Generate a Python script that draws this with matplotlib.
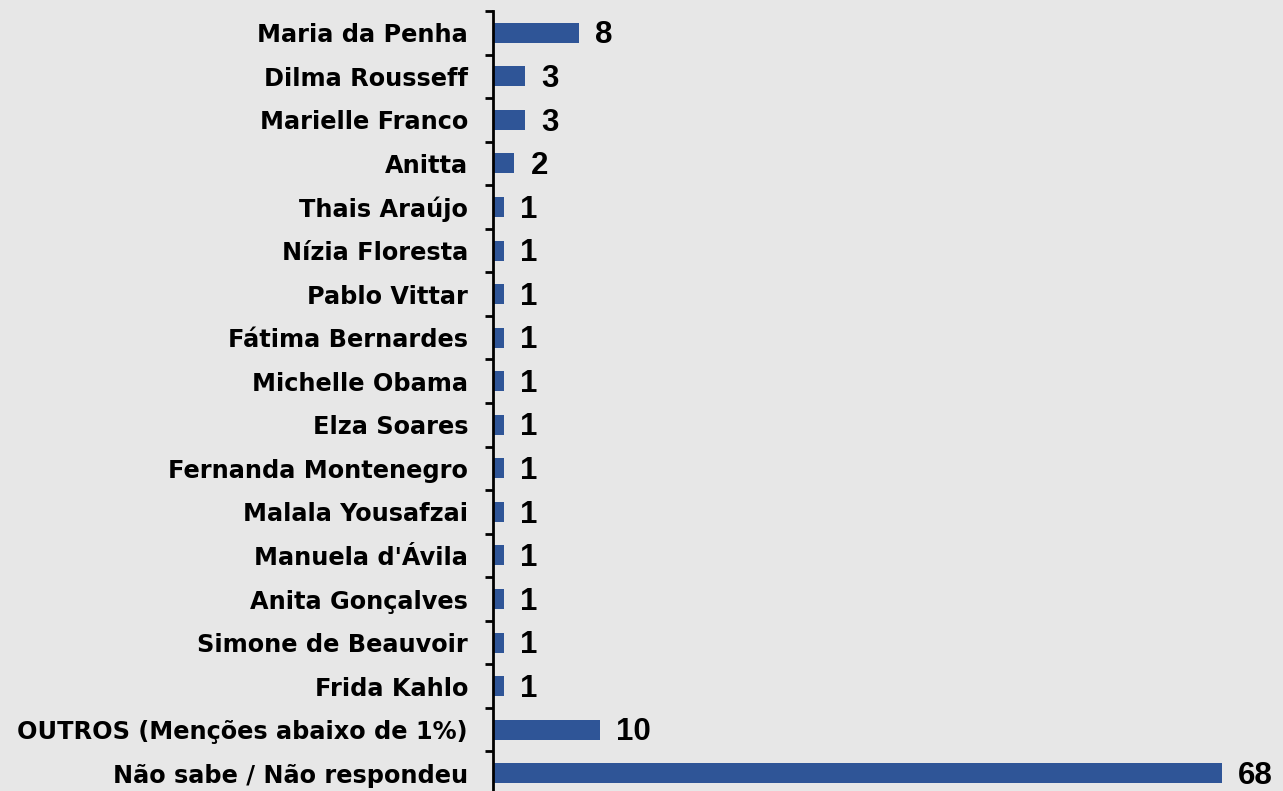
import matplotlib.pyplot as plt
from matplotlib.font_manager import FontProperties
import numpy as np

names = ['Maria da Penha', 'Dilma Rousseff', 'Marielle Franco', 'Anitta',
         'Thais Araújo', 'Nízia Floresta', 'Pablo Vittar', 'Fátima Bernardes',
         'Michelle Obama', 'Elza Soares', 'Fernanda Montenegro',
         'Malala Yousafzai', "Manuela d'Ávila", 'Anita Gonçalves',
         'Simone de Beauvoir', 'Frida Kahlo',
         'OUTROS (Menções abaixo de 1%)', 'Não sabe / Não respondeu']
values = [8, 3, 3, 2, 1, 1, 1, 1, 1, 1, 1, 1, 1, 1, 1, 1, 10, 68]

bg = '#e7e7e7'
fig = plt.figure(figsize=(12.83, 7.91), dpi=100, facecolor=bg)
ax = fig.add_axes([493 / 1283, -4 / 791, 790 / 1283, 784 / 791])
ax.set_facecolor(bg)

y = np.arange(len(names))
ax.barh(y, values, height=0.46, color='#2f5597')
ax.set_ylim(len(names) - 0.5, -0.5)
ax.set_xlim(0, 73.7)

# value labels to the right of each bar
val_font = FontProperties(family='Liberation Sans', weight='bold', size=22.5)
for yi, v in zip(y, values):
    ax.text(v + 1.5, yi + 0.06, str(v), va='center', ha='left',
            fontproperties=val_font)

ax.set_yticks(y)
ax.set_yticklabels(names, fontsize=17.3, fontweight='bold', family='DejaVu Sans')
ax.set_yticks(np.arange(-0.5, len(names), 1), minor=True)
ax.tick_params(axis='y', which='major', length=0, pad=18)
ax.tick_params(axis='y', which='minor', length=6, width=2, direction='out')
ax.set_xticks([])
for s in ['top', 'right', 'bottom']:
    ax.spines[s].set_visible(False)
ax.spines['left'].set_linewidth(2)

fig.savefig('out.png', dpi=100, facecolor=bg)
